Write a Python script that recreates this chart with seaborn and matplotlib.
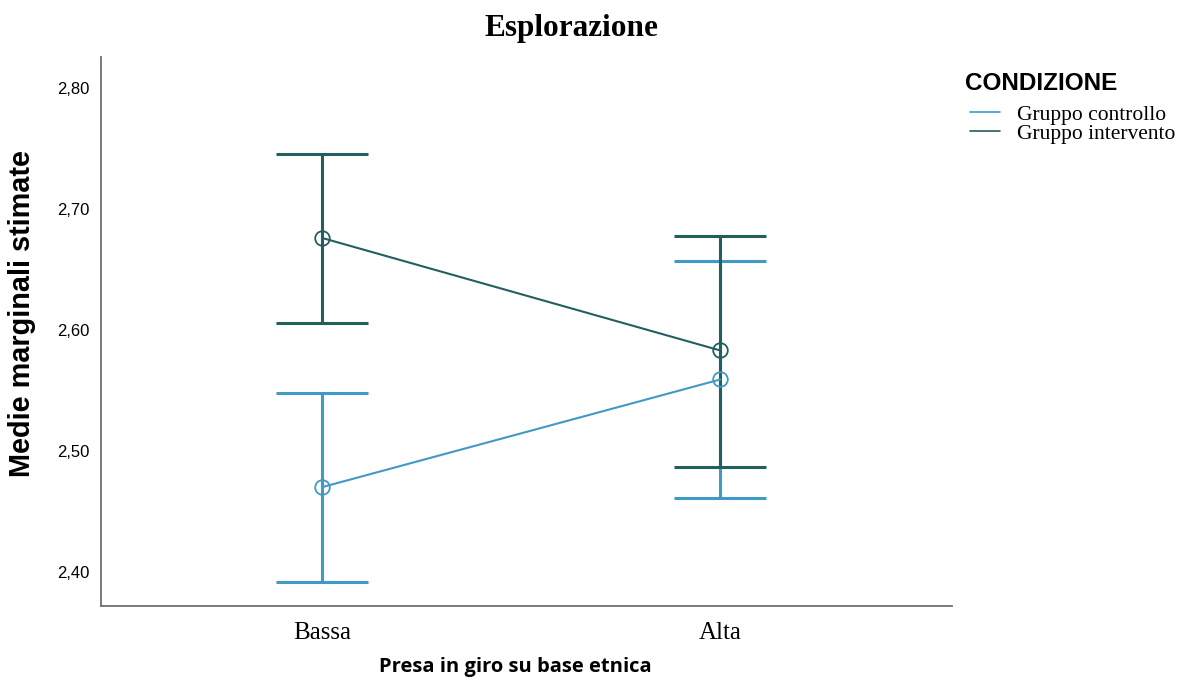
import numpy as np
import pandas as pd
import matplotlib
matplotlib.use("Agg")
import matplotlib.pyplot as plt
import seaborn as sns

# dati
livelli = ["Bassa", "Alta"]
gruppi = ["Gruppo controllo", "Gruppo intervento"]
medie_controllo = [2.470, 2.559]
inf_controllo = [2.392, 2.461]
sup_controllo = [2.548, 2.657]
medie_intervento = [2.676, 2.583]
inf_intervento = [2.606, 2.487]
sup_intervento = [2.745, 2.678]
y_ticks = [2.40, 2.50, 2.60, 2.70, 2.80]
y_tick_labels = ["2,40", "2,50", "2,60", "2,70", "2,80"]

colori = {"Gruppo controllo": "#4199c6", "Gruppo intervento": "#245f60"}

df = pd.DataFrame({
    "pos": list(range(len(livelli))) * 2,
    "livello": livelli * 2,
    "gruppo": [gruppi[0]] * 2 + [gruppi[1]] * 2,
    "media": medie_controllo + medie_intervento,
    "inf": inf_controllo + inf_intervento,
    "sup": sup_controllo + sup_intervento,
})

sns.set_style("white")
plt.rcParams["text.color"] = "black"
plt.rcParams["xtick.color"] = "black"
plt.rcParams["ytick.color"] = "black"
plt.rcParams["axes.labelcolor"] = "black"

fig = plt.figure(figsize=(11.89, 6.86), dpi=100)
ax = fig.add_axes([0.085, 0.117, 0.716, 0.800])

# barre di errore prima, poi linee e marcatori
for g in gruppi:
    sub = df[df["gruppo"] == g]
    ax.errorbar(sub["pos"], sub["media"],
                yerr=[sub["media"] - sub["inf"], sub["sup"] - sub["media"]],
                fmt="none", ecolor=colori[g], elinewidth=2.2,
                capsize=33, capthick=2.2, zorder=2)

sns.lineplot(data=df, x="pos", y="media", hue="gruppo", palette=colori,
             marker="o", markersize=10.5, markerfacecolor="none",
             markeredgewidth=1.3, linewidth=1.5, ax=ax, legend=False, zorder=3)
# marcatori vuoti col colore del gruppo
for line, g in zip(ax.get_lines()[-2:], gruppi):
    line.set_markeredgecolor(colori[g])

ax.set_xlim(-0.555, 1.583)
ax.set_ylim(2.372, 2.8256)
ax.set_xticks(range(len(livelli)))
ax.set_xticklabels(livelli, family="Liberation Serif", fontsize=18)
ax.set_yticks(y_ticks)
ax.set_yticklabels(y_tick_labels, family="Liberation Sans", fontsize=12)
ax.tick_params(axis="both", length=0)
ax.tick_params(axis="x", pad=12)
ax.tick_params(axis="y", pad=8)

for s in ["top", "right"]:
    ax.spines[s].set_visible(False)
for s in ["left", "bottom"]:
    ax.spines[s].set_color("#707070")
    ax.spines[s].set_linewidth(1.3)

ax.set_xlabel("Presa in giro su base etnica", family="Open Sans",
              fontweight="bold", fontsize=14.5)
ax.xaxis.set_label_coords(0.4865, -0.094)
ax.set_ylabel("Medie marginali stimate", family="Liberation Sans",
              fontweight="bold", fontsize=20.8)
ax.yaxis.set_label_coords(-0.077, 0.532)

fig.text(0.481, 0.958, "Esplorazione", family="Liberation Serif",
         fontweight="bold", fontsize=22.5, ha="center", va="center")

# titolo della legenda separato, come nell'originale
fig.text(0.8116, 1 - 90 / 686, "CONDIZIONE", family="Liberation Sans",
         fontweight="bold", fontsize=17.5, ha="left", va="baseline")
handles = [plt.Line2D([], [], color=colori[g], lw=1.2) for g in gruppi]
leg = fig.legend(handles, gruppi, loc="upper left", bbox_to_anchor=(0.8158, 0.847),
                 frameon=False, handlelength=1.4, handletextpad=0.8,
                 labelspacing=-0.05, borderpad=0.0, borderaxespad=0.0,
                 prop={"family": "Liberation Serif", "size": 15.5})

fig.savefig("out.png", dpi=100)
